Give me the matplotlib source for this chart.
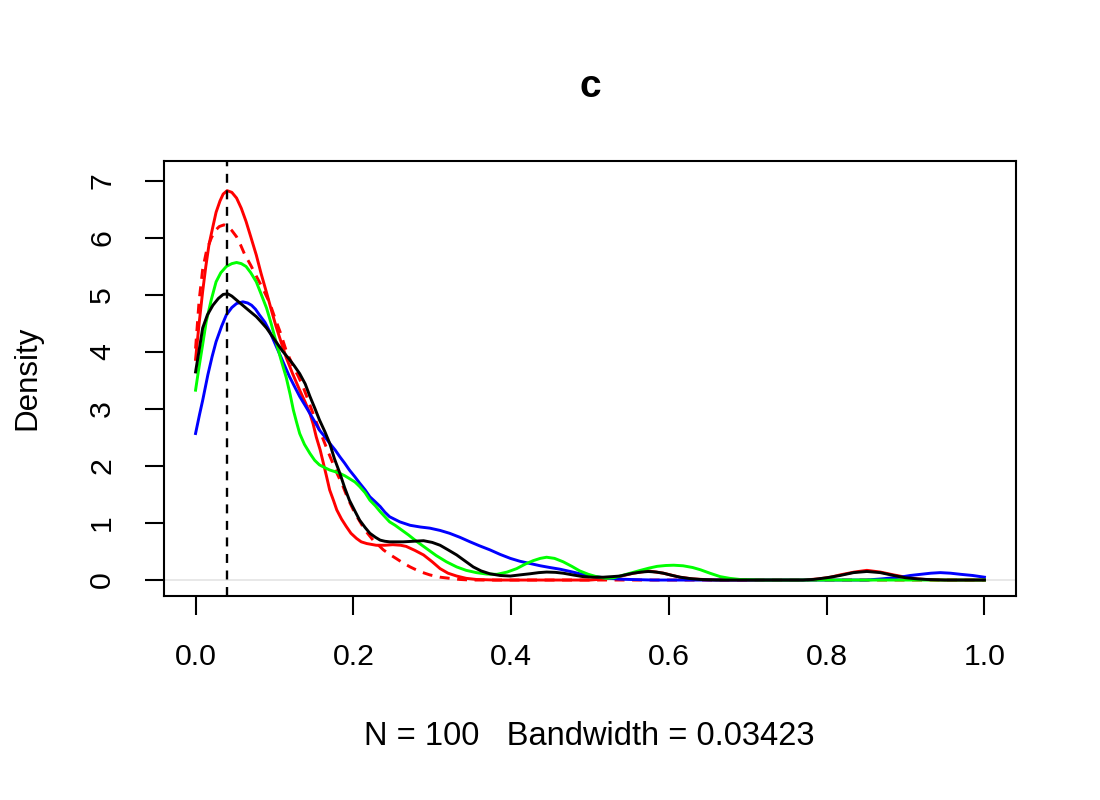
import numpy as np
import matplotlib
matplotlib.use("Agg")
import matplotlib.pyplot as plt

plt.rcParams['font.family'] = ['Liberation Sans', 'DejaVu Sans']

# density curves (x, density)
red_x = [0.000, 0.0045, 0.009, 0.013, 0.017, 0.022, 0.026, 0.031, 0.035, 0.040, 0.046, 0.052,
         0.058, 0.064, 0.070, 0.077, 0.083, 0.090, 0.096, 0.102, 0.109, 0.115, 0.123, 0.132,
         0.139, 0.145, 0.149, 0.153, 0.158, 0.162, 0.166, 0.170, 0.175, 0.179, 0.185, 0.191,
         0.197, 0.204, 0.210, 0.217, 0.229, 0.240, 0.250, 0.260, 0.267, 0.278, 0.289, 0.300,
         0.310, 0.320, 0.331, 0.343, 0.356, 0.380, 0.500, 0.520, 0.540, 0.555, 0.574, 0.593,
         0.605, 0.614, 0.630, 0.650, 0.700, 0.770, 0.790, 0.805, 0.817, 0.835, 0.851, 0.868,
         0.885, 0.900, 0.915, 0.930, 0.950, 1.000]
red_y = [3.87, 4.50, 5.06, 5.50, 5.88, 6.20, 6.45, 6.65, 6.77, 6.83, 6.80, 6.70,
         6.52, 6.29, 6.02, 5.70, 5.38, 5.04, 4.74, 4.45, 4.15, 3.90, 3.62, 3.33,
         3.12, 2.92, 2.74, 2.51, 2.28, 2.05, 1.82, 1.58, 1.39, 1.23, 1.07, 0.94,
         0.82, 0.73, 0.67, 0.64, 0.61, 0.61, 0.62, 0.61, 0.59, 0.52, 0.44, 0.32,
         0.20, 0.12, 0.07, 0.03, 0.01, 0.00, 0.00, 0.02, 0.07, 0.12, 0.16, 0.12,
         0.08, 0.05, 0.02, 0.005, 0.00, 0.00, 0.02, 0.05, 0.09, 0.14, 0.17, 0.14,
         0.09, 0.05, 0.02, 0.005, 0.00, 0.00]

true_x = [0.000, 0.0045, 0.009, 0.014, 0.020, 0.025, 0.030, 0.036, 0.041, 0.046, 0.052, 0.057,
          0.062, 0.070, 0.077, 0.085, 0.094, 0.100, 0.107, 0.115, 0.124, 0.130, 0.136, 0.142,
          0.149, 0.155, 0.162, 0.168, 0.174, 0.180, 0.187, 0.193, 0.200, 0.206, 0.212, 0.218,
          0.225, 0.232, 0.238, 0.246, 0.254, 0.263, 0.272, 0.284, 0.297, 0.310, 0.322, 0.335,
          0.348, 1.000]
true_y = [4.06, 4.90, 5.45, 5.78, 6.00, 6.13, 6.20, 6.23, 6.20, 6.13, 6.02, 5.88,
          5.72, 5.52, 5.33, 5.12, 4.86, 4.62, 4.36, 4.02, 3.74, 3.58, 3.40, 3.18,
          2.92, 2.70, 2.46, 2.25, 2.05, 1.85, 1.64, 1.43, 1.23, 1.08, 0.94, 0.82,
          0.70, 0.61, 0.53, 0.45, 0.38, 0.30, 0.23, 0.15, 0.09, 0.05, 0.03, 0.01,
          0.00, 0.00]

blue_x = [0.000, 0.005, 0.009, 0.0156, 0.021, 0.026, 0.033, 0.039, 0.046, 0.052, 0.060, 0.066,
          0.071, 0.076, 0.081, 0.088, 0.094, 0.100, 0.107, 0.113, 0.119, 0.126, 0.132, 0.139,
          0.145, 0.151, 0.157, 0.164, 0.170, 0.177, 0.183, 0.189, 0.195, 0.202, 0.208, 0.215,
          0.221, 0.228, 0.234, 0.240, 0.246, 0.259, 0.272, 0.285, 0.297, 0.310, 0.322, 0.335,
          0.348, 0.360, 0.373, 0.386, 0.399, 0.411, 0.424, 0.437, 0.449, 0.462, 0.475, 0.487,
          0.500, 0.512, 0.525, 0.538, 0.551, 0.580, 0.850, 0.870, 0.893, 0.906, 0.919, 0.932,
          0.944, 0.957, 0.970, 0.985, 1.000]
blue_y = [2.57, 2.90, 3.15, 3.60, 3.92, 4.18, 4.45, 4.65, 4.78, 4.85, 4.88, 4.86,
          4.82, 4.75, 4.65, 4.52, 4.36, 4.17, 3.95, 3.76, 3.57, 3.38, 3.22, 3.06,
          2.92, 2.78, 2.63, 2.51, 2.40, 2.28, 2.16, 2.05, 1.93, 1.81, 1.70, 1.58,
          1.46, 1.37, 1.29, 1.19, 1.11, 1.02, 0.96, 0.93, 0.91, 0.87, 0.82, 0.75,
          0.67, 0.60, 0.53, 0.45, 0.38, 0.33, 0.29, 0.25, 0.22, 0.19, 0.15, 0.11,
          0.07, 0.05, 0.03, 0.015, 0.01, 0.00, 0.00, 0.02, 0.05, 0.08, 0.10, 0.12,
          0.13, 0.12, 0.10, 0.08, 0.05]

green_x = [0.000, 0.004, 0.009, 0.0135, 0.020, 0.026, 0.032, 0.039, 0.046, 0.052, 0.058, 0.064,
           0.070, 0.077, 0.083, 0.090, 0.096, 0.102, 0.108, 0.115, 0.120, 0.124, 0.128, 0.132,
           0.138, 0.145, 0.151, 0.157, 0.164, 0.170, 0.177, 0.183, 0.189, 0.195, 0.202, 0.208,
           0.215, 0.221, 0.228, 0.234, 0.240, 0.246, 0.253, 0.259, 0.270, 0.280, 0.293, 0.305,
           0.318, 0.331, 0.343, 0.356, 0.369, 0.382, 0.395, 0.407, 0.418, 0.428, 0.437, 0.445,
           0.455, 0.466, 0.477, 0.487, 0.498, 0.508, 0.520, 0.530, 0.538, 0.551, 0.564, 0.575,
           0.585, 0.596, 0.606, 0.618, 0.630, 0.640, 0.652, 0.665, 0.677, 0.690, 0.720, 1.000]
green_y = [3.33, 3.70, 4.13, 4.53, 4.92, 5.23, 5.39, 5.50, 5.55, 5.57, 5.55, 5.50,
           5.39, 5.23, 5.02, 4.77, 4.49, 4.18, 3.88, 3.55, 3.25, 2.98, 2.77, 2.57,
           2.38, 2.22, 2.10, 2.02, 1.97, 1.93, 1.90, 1.87, 1.83, 1.78, 1.72, 1.64,
           1.53, 1.40, 1.30, 1.20, 1.11, 1.02, 0.96, 0.90, 0.79, 0.68, 0.55, 0.43,
           0.32, 0.23, 0.17, 0.13, 0.105, 0.10, 0.14, 0.20, 0.28, 0.34, 0.38, 0.40,
           0.38, 0.32, 0.24, 0.16, 0.10, 0.06, 0.03, 0.04, 0.07, 0.12, 0.17, 0.21,
           0.24, 0.255, 0.26, 0.25, 0.22, 0.18, 0.12, 0.06, 0.03, 0.01, 0.00, 0.00]

black_x = [0.000, 0.005, 0.009, 0.015, 0.022, 0.029, 0.035, 0.041, 0.046, 0.052, 0.058, 0.064,
           0.070, 0.077, 0.083, 0.090, 0.096, 0.102, 0.110, 0.119, 0.125, 0.132, 0.139, 0.145,
           0.151, 0.157, 0.164, 0.170, 0.176, 0.183, 0.189, 0.195, 0.202, 0.208, 0.215, 0.221,
           0.228, 0.234, 0.240, 0.246, 0.263, 0.276, 0.289, 0.300, 0.310, 0.320, 0.331, 0.341,
           0.352, 0.362, 0.373, 0.386, 0.399, 0.411, 0.424, 0.435, 0.445, 0.456, 0.466, 0.478,
           0.491, 0.504, 0.517, 0.528, 0.538, 0.546, 0.555, 0.565, 0.574, 0.584, 0.593, 0.603,
           0.614, 0.627, 0.640, 0.660, 0.770, 0.783, 0.800, 0.817, 0.834, 0.851, 0.868, 0.885,
           0.900, 0.915, 0.927, 0.950, 1.000]
black_y = [3.65, 4.07, 4.42, 4.65, 4.82, 4.94, 5.01, 5.02, 4.98, 4.91, 4.84, 4.77,
           4.70, 4.62, 4.53, 4.42, 4.30, 4.18, 4.02, 3.87, 3.76, 3.62, 3.44, 3.22,
           3.02, 2.81, 2.60, 2.40, 2.13, 1.87, 1.62, 1.40, 1.21, 1.05, 0.92, 0.82,
           0.75, 0.70, 0.68, 0.67, 0.67, 0.68, 0.69, 0.66, 0.61, 0.53, 0.44, 0.34,
           0.23, 0.16, 0.11, 0.08, 0.07, 0.09, 0.11, 0.13, 0.14, 0.135, 0.12, 0.09,
           0.06, 0.05, 0.05, 0.06, 0.07, 0.095, 0.12, 0.14, 0.15, 0.14, 0.12, 0.085,
           0.05, 0.025, 0.01, 0.00, 0.00, 0.01, 0.04, 0.08, 0.13, 0.15, 0.13, 0.08,
           0.04, 0.02, 0.01, 0.00, 0.00]

mode_x = 0.04
x_ticks = [0.0, 0.2, 0.4, 0.6, 0.8, 1.0]
y_ticks = [0, 1, 2, 3, 4, 5, 6, 7]

fig = plt.figure(figsize=(11, 8), dpi=100)
ax = fig.add_axes([164 / 1100, 1 - 596 / 800, 852 / 1100, 435 / 800])

lw = 2.1
ax.plot(red_x, red_y, color='#ff0000', lw=lw, zorder=3)
ax.axhline(0, color='#e4e4e4', lw=1.2, zorder=2)
ax.plot(true_x, true_y, color='#ff0000', lw=lw, dashes=(3.4, 2.6), zorder=3)
ax.plot(blue_x, blue_y, color='#0000ff', lw=lw, zorder=3)
ax.plot(green_x, green_y, color='#00ff00', lw=lw, zorder=3)
ax.plot(black_x, black_y, color='black', lw=lw, zorder=3)
ax.axvline(mode_x, color='black', lw=1.7, dashes=(3.8, 3.2), zorder=4)

ax.set_xlim(-0.04, 1.04)
ax.set_ylim(-0.28, 7.35)
ax.set_xticks(x_ticks)
ax.set_xticklabels(['%.1f' % v for v in x_ticks])
ax.set_yticks(y_ticks)
ax.set_yticklabels([str(v) for v in y_ticks], rotation=90, va='center')

for s in ax.spines.values():
    s.set_linewidth(1.5)
ax.tick_params(axis='both', length=14, width=1.5, labelsize=21.8)
ax.tick_params(axis='x', pad=20)
ax.tick_params(axis='y', pad=20.5)

fig.text(590 / 1100, 1 - 97 / 800, 'c', ha='center', va='baseline',
         fontsize=28, fontweight='bold')
fig.text(589 / 1100, 1 - 745 / 800, 'N = 100   Bandwidth = 0.03423',
         ha='center', va='baseline', fontsize=23.5)
fig.text(27 / 1100, 1 - 378 / 800, 'Density', ha='center', va='center',
         rotation=90, fontsize=22.5)

fig.savefig('out.png', dpi=100, facecolor='white')
